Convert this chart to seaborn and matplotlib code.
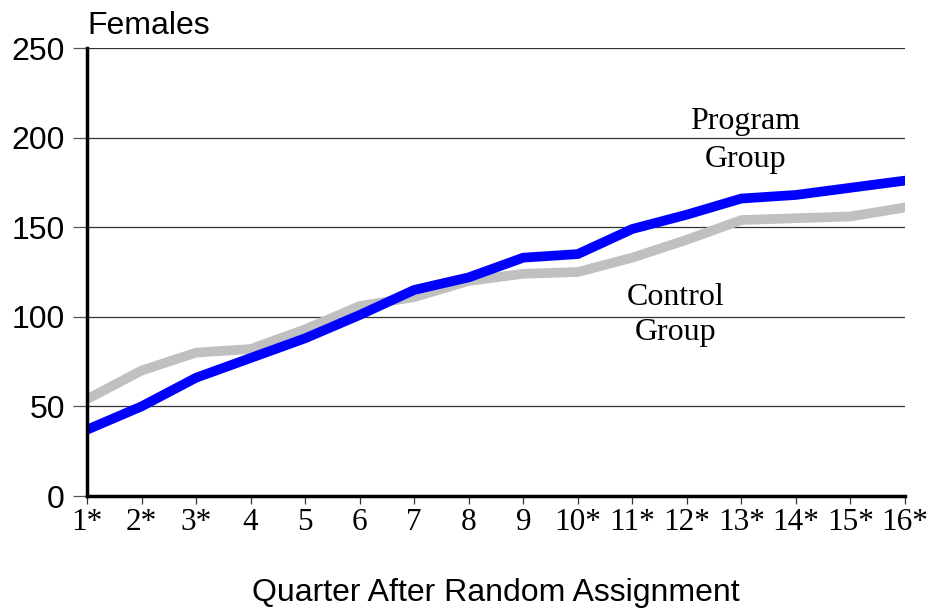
import pandas as pd
import matplotlib.pyplot as plt
import seaborn as sns
import numpy as np

sns.set_theme(style="white")
plt.rcParams['font.family'] = ['Liberation Sans', 'DejaVu Sans']
plt.rcParams['text.color'] = 'black'
plt.rcParams['xtick.color'] = 'black'
plt.rcParams['ytick.color'] = 'black'
plt.rcParams['axes.labelcolor'] = 'black'

quarters = np.arange(1, 17)
quarter_labels = ["1*", "2*", "3*", "4", "5", "6", "7", "8", "9",
                  "10*", "11*", "12*", "13*", "14*", "15*", "16*"]
program = [37, 50, 66, 77, 88, 101, 115, 122, 133, 135, 149, 157, 166, 168, 172, 176]
control = [54, 70, 80, 82, 93, 106, 111, 120, 124, 125, 133, 143, 154, 155, 156, 161]

df = pd.DataFrame({
    "quarter": np.concatenate([quarters, quarters]),
    "value": program + control,
    "group": ["Program"] * 16 + ["Control"] * 16,
})

fig = plt.figure(figsize=(9.3, 6.1), dpi=100)
ax = fig.add_axes([87 / 930, 1 - 496 / 610, 818 / 930, 448 / 610])

# grid lines behind the data
for y in [50, 100, 150, 200, 250]:
    ax.axhline(y, color="#333333", lw=0.9, zorder=0)

sns.lineplot(data=df, x="quarter", y="value", hue="group",
             hue_order=["Control", "Program"],
             palette={"Control": "#c0c0c0", "Program": "#0000ff"},
             linewidth=7, legend=False, ax=ax, zorder=2)

ax.set_xlim(1, 16)
ax.set_ylim(0, 250)
ax.set_yticks([0, 50, 100, 150, 200, 250])
ax.set_xticks(quarters)
ax.set_xticklabels(quarter_labels, family=["Liberation Serif"], fontsize=22.5)
ax.tick_params(axis="y", labelsize=23, length=10, width=0.9, color="#555555", pad=6, direction="out")
ax.tick_params(axis="x", length=6, width=0.9, color="#333333", pad=3, direction="out")
ax.tick_params(left=True, bottom=True)

for s in ["top", "right"]:
    ax.spines[s].set_visible(False)
for s in ["left", "bottom"]:
    ax.spines[s].set_linewidth(2.5)
    ax.spines[s].set_color("black")
    ax.spines[s].set_zorder(3)

ax.set_xlabel("Quarter After Random Assignment", fontsize=23, labelpad=29)
ax.set_ylabel("")
ax.text(0.0, 1.015, "Females", transform=ax.transAxes, fontsize=23, va="bottom", ha="left")

ax.text(13.07, 209, "Program", family=["Liberation Serif"], fontsize=23, ha="center", va="center")
ax.text(13.07, 188, "Group", family=["Liberation Serif"], fontsize=23, ha="center", va="center")
ax.text(11.8, 111, "Control", family=["Liberation Serif"], fontsize=23, ha="center", va="center")
ax.text(11.8, 91, "Group", family=["Liberation Serif"], fontsize=23, ha="center", va="center")

fig.savefig("out.png", dpi=100)
